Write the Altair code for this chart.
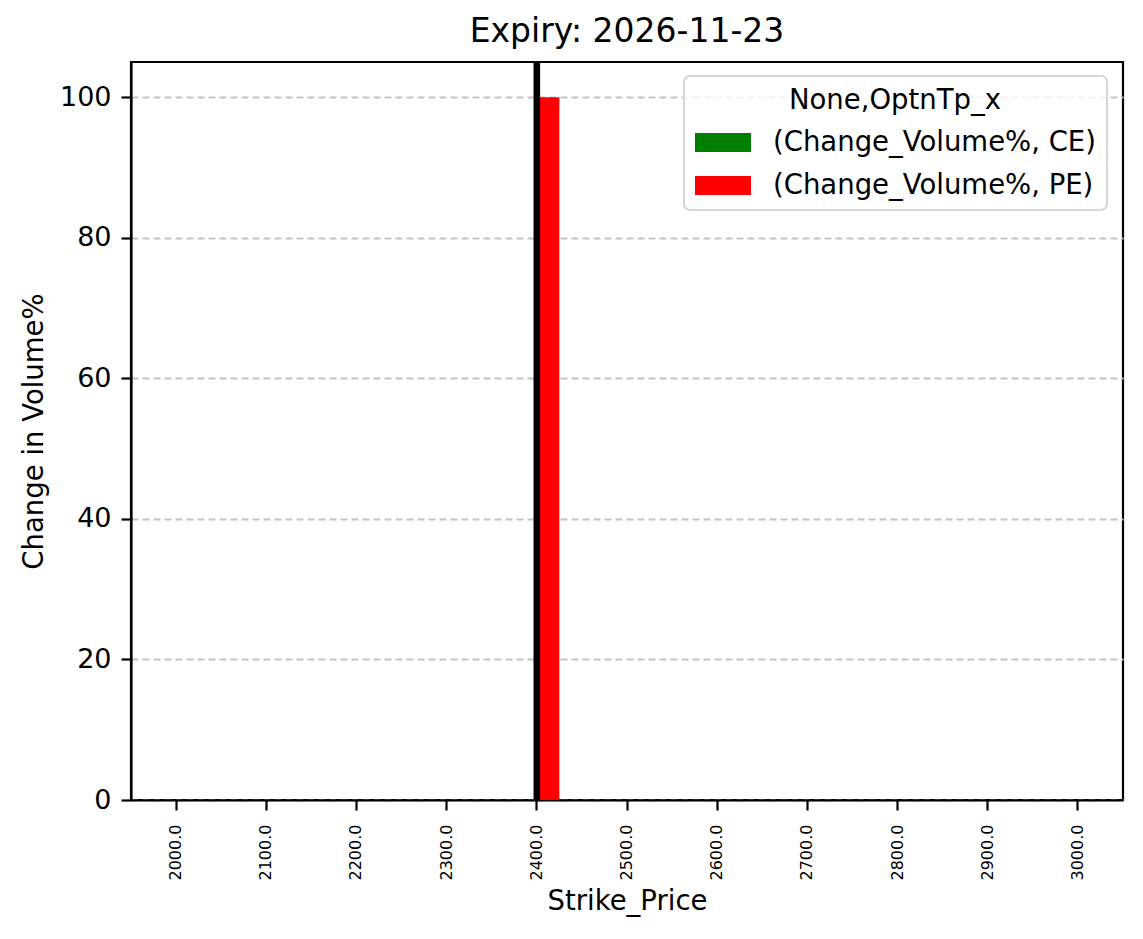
import altair as alt
import pandas as pd

# strike prices (x categories) and the two option-type series
strikes = ["2000.0", "2100.0", "2200.0", "2300.0", "2400.0", "2500.0",
           "2600.0", "2700.0", "2800.0", "2900.0", "3000.0"]
option_types = ["CE", "PE"]
ce_change = [0, 0, 0, 0, 0, 0, 0, 0, 0, 0, 0]
pe_change = [0, 0, 0, 0, 100, 0, 0, 0, 0, 0, 0]
y_ticks = [0, 20, 40, 60, 80, 100]
spot_strike = ["2400.0"]

FONT = "DejaVu Sans"

df = pd.DataFrame({
    "strike": strikes * 2,
    "type": ["CE"] * len(strikes) + ["PE"] * len(strikes),
    "value": ce_change + pe_change,
})
spot_df = pd.DataFrame({"strike": spot_strike})

bars = alt.Chart(df).mark_bar().encode(
    x=alt.X("strike:N",
            scale=alt.Scale(domain=strikes, paddingInner=0.5, paddingOuter=0.25),
            axis=alt.Axis(title="Strike_Price", labelAngle=-90, labelFontSize=16,
                          labelPadding=14, titlePadding=8, grid=False)),
    xOffset=alt.XOffset("type:N",
                        scale=alt.Scale(domain=option_types, paddingInner=0, paddingOuter=0)),
    y=alt.Y("value:Q",
            scale=alt.Scale(domain=[0, 105], nice=False, zero=True),
            axis=alt.Axis(title="Change in Volume%", values=y_ticks, format="d",
                          labelFontSize=27, labelPadding=10, titlePadding=11,
                          grid=True, gridColor="#c4c4c4", gridDash=[7, 4],
                          gridWidth=2)),
    color=alt.Color("type:N",
                    scale=alt.Scale(domain=option_types, range=["#008000", "#ff0000"]),
                    legend=alt.Legend(
                        title="None,OptnTp_x", orient="none", legendX=553, legendY=14,
                        symbolType="M-1,-0.34L1,-0.34L1,0.34L-1,0.34Z",
                        symbolSize=3136, symbolStrokeWidth=0, symbolOpacity=1,
                        labelExpr="'(Change_Volume%, ' + datum.label + ')'",
                        labelLimit=0, titleLimit=0,
                        titleAnchor="middle", titleFontSize=27.5, labelFontSize=27.5,
                        titleFontWeight="normal", titleFont=FONT, labelFont=FONT,
                        titleColor="black", labelColor="black",
                        padding=11, labelOffset=22, rowPadding=1, titlePadding=0,
                        strokeColor="#d6d6d6", fillColor="rgba(255,255,255,0.8)",
                        cornerRadius=6)),
)

spot = alt.Chart(spot_df).mark_rule(color="black", strokeWidth=6.6).encode(
    x=alt.X("strike:N")
)

chart = alt.layer(bars, spot).properties(
    width=992,
    height=738,
    autosize=alt.AutoSizeParams(type="none"),
    padding={"left": 123, "top": 54, "right": 12, "bottom": 125},
    title=alt.TitleParams("Expiry: 2026-11-23", fontSize=33, font=FONT,
                          fontWeight="normal", color="black", anchor="middle",
                          offset=10),
).configure_view(
    stroke="black", strokeWidth=2.2
).configure_axis(
    labelFont=FONT, titleFont=FONT, labelColor="black", titleColor="black",
    titleFontSize=27.5, titleFontWeight="normal",
    domainColor="black", domainWidth=2.2, tickColor="black", tickWidth=2.2,
    tickSize=10
).configure_legend(
    strokeWidth=2
)

chart.save("out.html", embed_options={"renderer": "svg", "actions": False})
